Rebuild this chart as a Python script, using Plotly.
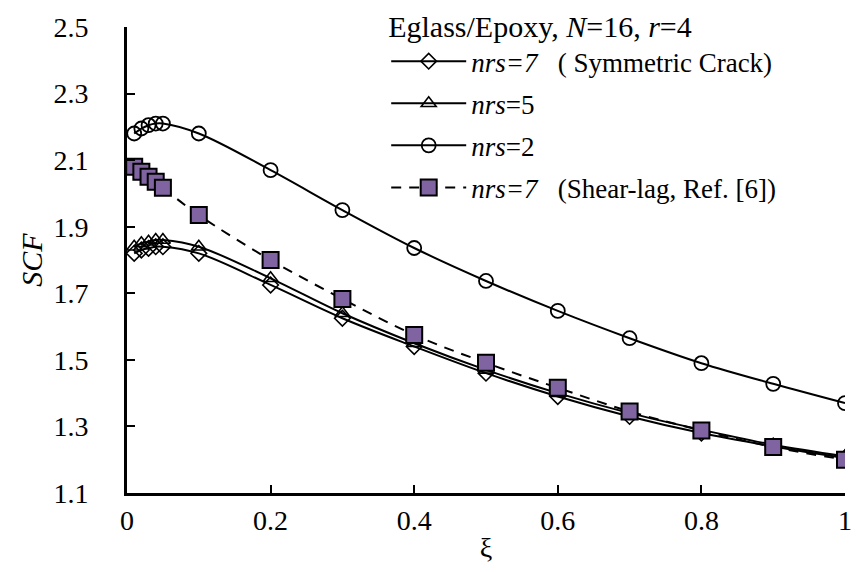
import plotly.graph_objects as go

xi = [0.01, 0.02, 0.03, 0.04, 0.05, 0.1, 0.2, 0.3, 0.4, 0.5, 0.6, 0.7, 0.8, 0.9, 1.0]
scf_nrs7 = [1.82, 1.83, 1.835, 1.84, 1.84, 1.82, 1.725, 1.625, 1.54, 1.46, 1.39, 1.33, 1.28, 1.24, 1.205]
scf_nrs5 = [1.84, 1.85, 1.855, 1.86, 1.86, 1.84, 1.745, 1.64, 1.55, 1.47, 1.40, 1.34, 1.29, 1.245, 1.21]
scf_nrs2 = [2.18, 2.195, 2.205, 2.21, 2.21, 2.18, 2.07, 1.95, 1.836, 1.737, 1.647, 1.565, 1.49, 1.428, 1.37]
scf_shearlag = [2.08, 2.065, 2.05, 2.035, 2.017, 1.935, 1.80, 1.683, 1.575, 1.491, 1.416, 1.345, 1.288, 1.238, 1.2]

x_ticks = [0, 0.2, 0.4, 0.6, 0.8, 1.0]
x_ticktext = ["0", "0.2", "0.4", "0.6", "0.8", "1"]
y_ticks = [1.1, 1.3, 1.5, 1.7, 1.9, 2.1, 2.3, 2.5]
y_ticktext = ["1.1", "1.3", "1.5", "1.7", "1.9", "2.1", "2.3", "2.5"]

FONT = "Liberation Serif"
NB = "&nbsp;"

fig = go.Figure()
fig.add_trace(go.Scatter(
    x=xi, y=scf_nrs7, mode="lines+markers", line_shape="spline",
    name="<i>nrs=7</i>" + NB * 3 + "( Symmetric Crack)", legendgroup="a",
    line=dict(color="black", width=2),
    marker=dict(symbol="diamond-open", size=12, color="black", line=dict(width=1.6)),
))
fig.add_trace(go.Scatter(
    x=xi, y=scf_nrs5, mode="lines+markers", line_shape="spline",
    name="<i>nrs</i>=5", legendgroup="b",
    line=dict(color="black", width=2),
    marker=dict(symbol="triangle-up-open", size=13, color="black", line=dict(width=1.6)),
))
fig.add_trace(go.Scatter(
    x=xi, y=scf_nrs2, mode="lines+markers", line_shape="spline",
    name="<i>nrs</i>=2", legendgroup="c",
    line=dict(color="black", width=2),
    marker=dict(symbol="circle-open", size=14, color="black", line=dict(width=1.8)),
))
fig.add_trace(go.Scatter(
    x=xi, y=scf_shearlag, mode="lines+markers", line_shape="spline",
    name="<i>nrs=7</i>" + NB * 3 + "(Shear-lag, Ref. [6])", legendgroup="d",
    line=dict(color="black", width=2, dash="10px,8px"),
    marker=dict(symbol="square", size=16, color="#8064A2", line=dict(color="black", width=2)),
))

axis_common = dict(
    showline=True, linecolor="black", linewidth=3, mirror=False,
    showgrid=False, zeroline=False, automargin=False,
    ticks="inside", ticklen=8, tickwidth=2, tickcolor="black",
    tickfont=dict(family=FONT, size=28, color="black"),
)

# page body has an 8px default margin, so the figure is offset by 8px
fig.update_layout(
    width=853, height=564,
    margin=dict(l=119, r=16, t=19, b=79, autoexpand=False),
    paper_bgcolor="white", plot_bgcolor="white",
    font=dict(family=FONT, size=27, color="black"),
    xaxis=dict(range=[0, 1], tickvals=x_ticks, ticktext=x_ticktext,
               ticklabelstandoff=0,
               title=dict(text="ξ", font=dict(family=FONT, size=28), standoff=3),
               **axis_common),
    yaxis=dict(range=[1.1, 2.5], tickvals=y_ticks, ticktext=y_ticktext,
               ticklabelstandoff=30,
               title=dict(text="<i>SCF</i>", font=dict(family=FONT, size=30), standoff=2),
               **axis_common),
    showlegend=True,
    legend=dict(
        x=0.361, y=1.062, xanchor="left", yanchor="top",
        bgcolor="rgba(0,0,0,0)", borderwidth=0,
        font=dict(family=FONT, size=27, color="black"),
        title=dict(text="Eglass/Epoxy, <i>N</i>=16, <i>r</i>=4",
                   font=dict(family=FONT, size=30, color="black"), side="top"),
        itemwidth=75, tracegroupgap=4, traceorder="grouped",
    ),
)

fig.write_html("out.html")
